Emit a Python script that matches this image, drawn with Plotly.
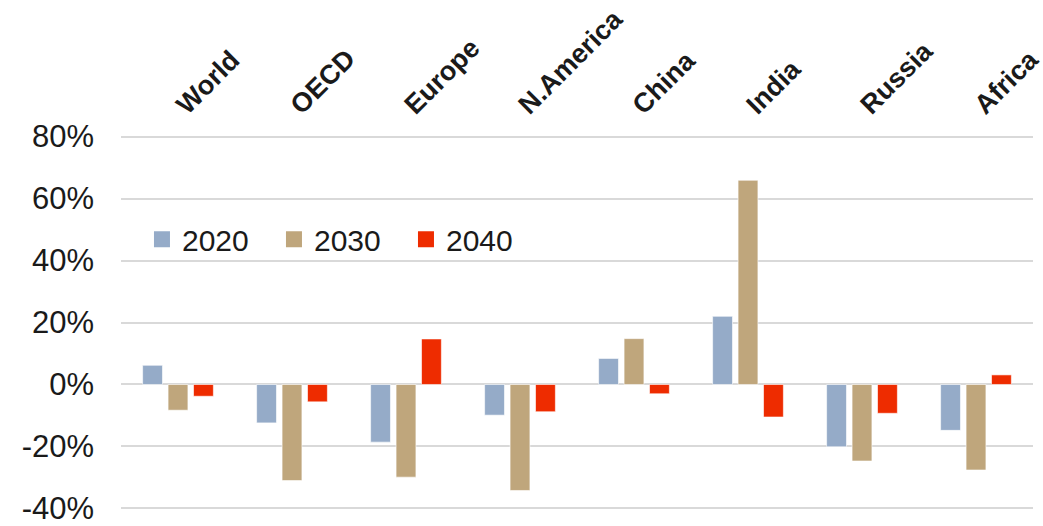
import plotly.graph_objects as go

# Regions and percentage changes by horizon year
regions = ["World", "OECD", "Europe", "N.America", "China", "India", "Russia", "Africa"]
change_2020 = [6.2, -12.4, -18.6, -9.9, 8.4, 22.0, -20.1, -14.8]
change_2030 = [-8.3, -31.0, -29.9, -34.2, 14.8, 65.9, -24.7, -27.6]
change_2040 = [-3.8, -5.6, 14.7, -8.8, -3.0, -10.5, -9.3, 3.1]

y_tick_values = [-40, -20, 0, 20, 40, 60, 80]
y_tick_labels = ["-40%", "-20%", "0%", "20%", "40%", "60%", "80%"]

series = [
    ("2020", change_2020, "#95abc8"),
    ("2030", change_2030, "#bfa67c"),
    ("2040", change_2040, "#ee2c00"),
]

FONT = "Liberation Sans, Arial, sans-serif"

fig = go.Figure()
for name, values, color in series:
    fig.add_trace(go.Bar(
        name=name,
        x=regions,
        y=values,
        showlegend=False,
        marker=dict(color=color, line=dict(color="rgba(255,255,255,0.6)", width=1)),
    ))

# Legend keys drawn as larger square markers
for name, _, color in series:
    fig.add_trace(go.Scatter(
        name=name,
        x=[None],
        y=[None],
        mode="markers",
        marker=dict(symbol="square", size=16, color=color),
        hoverinfo="skip",
    ))

fig.update_layout(
    width=1043,
    height=526,
    margin=dict(l=121, r=10, t=135, b=16, autoexpand=False),
    plot_bgcolor="white",
    paper_bgcolor="white",
    barmode="group",
    bargap=0.33,
    bargroupgap=0.22,
    font=dict(family=FONT, color="#1a1a1a"),
    showlegend=True,
    legend=dict(
        orientation="h",
        x=0.023,
        y=0.722,
        xanchor="left",
        yanchor="middle",
        font=dict(size=30, family=FONT, color="#1a1a1a"),
        entrywidth=87,
        entrywidthmode="pixels",
        bgcolor="rgba(0,0,0,0)",
        itemsizing="trace",
    ),
    xaxis=dict(
        side="top",
        tickangle=-45,
        showgrid=False,
        showline=False,
        ticks="",
        automargin=False,
        ticklabelstandoff=9,
        ticklabeloverflow="allow",
        tickfont=dict(size=27, family=FONT, color="#1a1a1a", weight="bold"),
    ),
    yaxis=dict(
        range=[-40.5, 80.5],
        tickvals=y_tick_values,
        ticktext=y_tick_labels,
        showgrid=True,
        gridcolor="#d9d9d9",
        gridwidth=2,
        zeroline=True,
        zerolinecolor="#d9d9d9",
        zerolinewidth=2,
        showline=False,
        ticks="",
        automargin=False,
        ticklabelstandoff=26,
        ticklabeloverflow="allow",
        tickfont=dict(size=31, family=FONT, color="#1a1a1a"),
    ),
)

fig.write_html("out.html")
